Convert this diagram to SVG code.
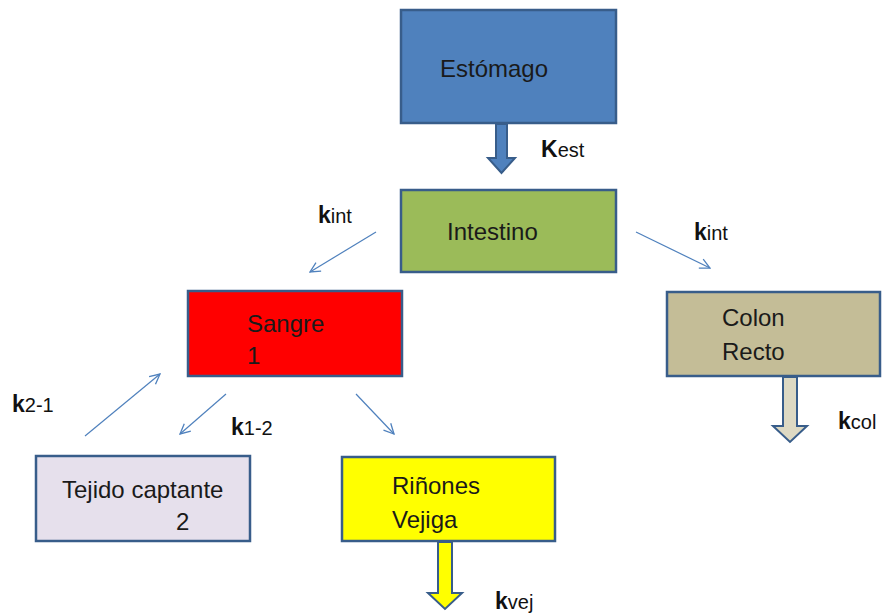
<svg xmlns="http://www.w3.org/2000/svg" width="884" height="615" viewBox="0 0 884 615">
<defs>
<marker id="open" viewBox="0 0 12 12" refX="11" refY="6" markerWidth="12" markerHeight="12" markerUnits="userSpaceOnUse" orient="auto">
<path d="M1,1 L11,6 L1,11" fill="none" stroke="#4F81BD" stroke-width="1.3"/>
</marker>
</defs>
<style>
.box{stroke:#385D8A;stroke-width:2.5}
.t{font-family:"Liberation Sans","Open Sans",sans-serif;font-size:24px;fill:#1a1a1a}
.k{font-family:"Liberation Sans","Open Sans",sans-serif;font-size:20px;fill:#111}
.kb{font-weight:bold;font-size:23px}
.ln{stroke:#4F81BD;stroke-width:1.2;fill:none}
.blk{stroke:#385D8A;stroke-width:2;stroke-linejoin:miter}
</style>
<rect width="884" height="615" fill="#fff"/>
<g id="estomago">
<rect class="box" x="401" y="10" width="215" height="113" fill="#4F81BD"/>
<text class="t" x="440" y="77">Estómago</text>
</g>
<g id="intestino">
<rect class="box" x="401" y="190" width="215" height="82" fill="#9BBB59"/>
<text class="t" x="447" y="240">Intestino</text>
</g>
<g id="sangre">
<rect class="box" x="188" y="291" width="214" height="85" fill="#FF0000"/>
<text class="t" x="247" y="332">Sangre</text>
<text class="t" x="247" y="364">1</text>
</g>
<g id="colon">
<rect class="box" x="667" y="292" width="213" height="84" fill="#C4BD97"/>
<text class="t" x="722" y="326">Colon</text>
<text class="t" x="722" y="360">Recto</text>
</g>
<g id="tejido">
<rect class="box" x="36" y="456" width="214" height="85" fill="#E6E0EC"/>
<text class="t" x="62" y="498">Tejido captante</text>
<text class="t" x="176" y="530">2</text>
</g>
<g id="rinones">
<rect class="box" x="342" y="457" width="213" height="84" fill="#FFFF00"/>
<text class="t" x="392" y="494">Riñones</text>
<text class="t" x="392" y="528">Vejiga</text>
</g>
<g id="connectors">
<path class="blk" d="M496,124 L507,124 L507,158 L515,158 L501.5,173 L488,158 L496,158 Z" fill="#4F81BD"/>
<path class="blk" d="M783,377 L797,377 L797,426 L807,426 L790,442 L773,426 L783,426 Z" fill="#DDD9C3"/>
<path class="blk" d="M438,542 L452,542 L452,593 L462,593 L445,609 L428,593 L438,593 Z" fill="#FFFF00"/>
<line class="ln" x1="376" y1="232" x2="310" y2="272" marker-end="url(#open)"/>
<line class="ln" x1="636" y1="232" x2="710" y2="268" marker-end="url(#open)"/>
<line class="ln" x1="85" y1="436" x2="160" y2="374" marker-end="url(#open)"/>
<line class="ln" x1="226" y1="394" x2="180" y2="434" marker-end="url(#open)"/>
<line class="ln" x1="356" y1="394" x2="394" y2="434" marker-end="url(#open)"/>
</g>
<g id="labels">
<text class="k" x="541" y="157"><tspan class="kb">K</tspan>est</text>
<text class="k" x="318" y="223"><tspan class="kb">k</tspan>int</text>
<text class="k" x="694" y="240"><tspan class="kb">k</tspan>int</text>
<text class="k" x="12" y="412"><tspan class="kb">k</tspan>2-1</text>
<text class="k" x="231" y="435"><tspan class="kb">k</tspan>1-2</text>
<text class="k" x="838" y="429"><tspan class="kb">k</tspan>col</text>
<text class="k" x="495" y="609"><tspan class="kb">k</tspan>vej</text>
</g>
</svg>
